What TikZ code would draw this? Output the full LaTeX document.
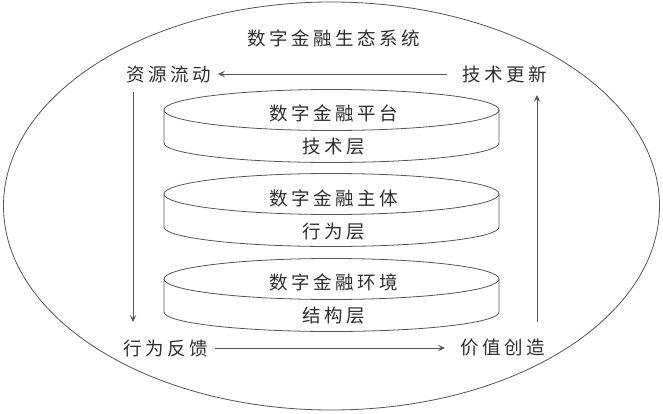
\documentclass[tikz,border=0pt]{standalone}
\usepackage{fontspec}
\newfontfamily\cjk[LetterSpace=19]{Noto Sans CJK SC}
\usetikzlibrary{arrows.meta}
\definecolor{ln}{HTML}{555555}
\definecolor{tx}{HTML}{2E2E2E}
\tikzset{
  x=1pt,y=-1pt,
  lbl/.style={inner sep=0pt,text=tx,font=\cjk\fontsize{18.5}{21}\selectfont},
  arr/.style={draw=ln,line width=0.8pt,-{Stealth[length=7pt,width=6.5pt,inset=3pt]}},
  cyl/.style={draw=ln,line width=0.8pt,fill=white},
}
\begin{document}
\begin{tikzpicture}
\useasboundingbox (0,0) rectangle (663,414);
\draw[ln,line width=0.8pt] (331.5,206) ellipse [x radius=328pt, y radius=204pt];
% cylinders
\foreach \c in {110,194,279}{
  \draw[cyl] (164,\c) -- (164,\c+33) arc[start angle=180,end angle=360,x radius=167.5pt,y radius=19.5pt] -- (499,\c) -- cycle;
  \draw[cyl] (331.5,\c) ellipse [x radius=167.5pt, y radius=20.5pt];
}
\node[lbl] (title) at (333.5,38) {数字金融生态系统};
\node[lbl] (p1) at (333.5,113) {数字金融平台};
\node[lbl] (p1b) at (333.5,147) {技术层};
\node[lbl] (p2) at (333.5,198) {数字金融主体};
\node[lbl] (p2b) at (333.5,232) {行为层};
\node[lbl] (p3) at (333.5,282) {数字金融环境};
\node[lbl] (p3b) at (333.5,316) {结构层};
\node[lbl] (zyld) at (169,74) {资源流动};
\node[lbl] (jsgx) at (505,74) {技术更新};
\node[lbl] (xwfk) at (166,348) {行为反馈};
\node[lbl] (jzcz) at (503,348) {价值创造};
\draw[arr] ([xshift=-58pt]jsgx.center) -- ([xshift=49pt]zyld.center);
\draw[arr] ([xshift=-36pt,yshift=-18pt]zyld.center) -- ([xshift=-33pt,yshift=26pt]xwfk.center);
\draw[arr] ([xshift=49pt]xwfk.center) -- ([xshift=-58pt]jzcz.center);
\draw[arr] ([xshift=34pt,yshift=26pt]jzcz.center) -- ([xshift=32pt,yshift=-21pt]jsgx.center);
\end{tikzpicture}
\end{document}
